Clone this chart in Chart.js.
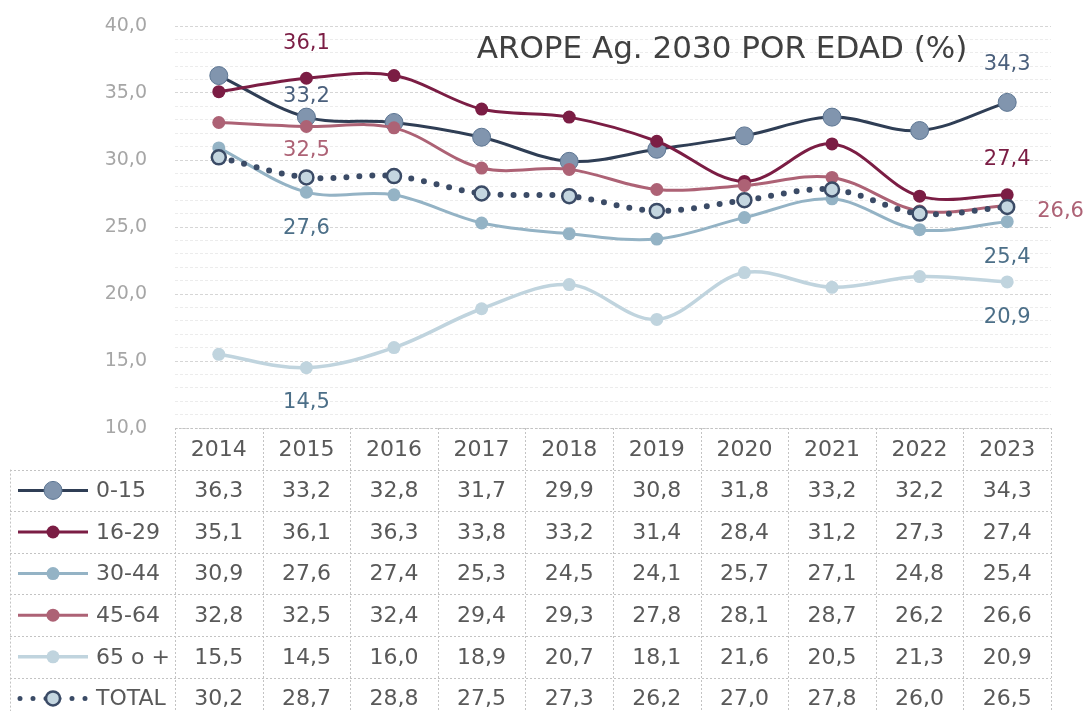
<!DOCTYPE html>
<html>
<head>
<meta charset="utf-8">
<script src="https://cdn.jsdelivr.net/npm/chart.js@4.4.1/dist/chart.umd.min.js"></script>
<style>
  html, body { margin: 0; padding: 0; background: #fff; }
  #wrap { width: 1086px; height: 711px; }
</style>
</head>
<body>
<div id="wrap"><canvas id="chart" width="1086" height="711"></canvas></div>
<script>
const years = ["2014", "2015", "2016", "2017", "2018", "2019", "2020", "2021", "2022", "2023"];
const age0to15 = [36.3, 33.2, 32.8, 31.7, 29.9, 30.8, 31.8, 33.2, 32.2, 34.3];
const age16to29 = [35.1, 36.1, 36.3, 33.8, 33.2, 31.4, 28.4, 31.2, 27.3, 27.4];
const age30to44 = [30.9, 27.6, 27.4, 25.3, 24.5, 24.1, 25.7, 27.1, 24.8, 25.4];
const age45to64 = [32.8, 32.5, 32.4, 29.4, 29.3, 27.8, 28.1, 28.7, 26.2, 26.6];
const age65plus = [15.5, 14.5, 16.0, 18.9, 20.7, 18.1, 21.6, 20.5, 21.3, 20.9];
const totalAll = [30.2, 28.7, 28.8, 27.5, 27.3, 26.2, 27.0, 27.8, 26.0, 26.5];
const seriesNames = ["0-15", "16-29", "30-44", "45-64", "65 o +", "TOTAL"];
const chartTitle = "AROPE Ag. 2030 POR EDAD (%)";

const allSeries = [age0to15, age16to29, age30to44, age45to64, age65plus, totalAll];

// look of each series (line colour, marker fill/border, marker radius)
const looks = [
  { line: "#2f3e55", fill: "#8195ae", border: "#5c7592", r: 9, bw: 1, width: 3 },
  { line: "#7b1d44", fill: "#7b1d44", border: "#7b1d44", r: 6.5, bw: 0, width: 3 },
  { line: "#94b3c5", fill: "#94b3c5", border: "#94b3c5", r: 6.5, bw: 0, width: 3 },
  { line: "#ad6275", fill: "#ad6275", border: "#ad6275", r: 6.5, bw: 0, width: 3 },
  { line: "#c0d4de", fill: "#c0d4de", border: "#c0d4de", r: 6.5, bw: 0, width: 3.5 },
  { line: "#3b4b66", fill: "#c4d6e0", border: "#3b4b66", r: 7, bw: 2.5, width: 6, dotted: true }
];

// which values get a label on the plot
const callouts = [
  { s: 1, i: 1, dy: -35, color: "#7b1d44" },
  { s: 0, i: 1, dy: -21, color: "#4b607c" },
  { s: 3, i: 1, dy: 24, color: "#ad6275" },
  { s: 2, i: 1, dy: 36, color: "#4c6f88" },
  { s: 4, i: 1, dy: 35, color: "#4c6f88" },
  { s: 0, i: 9, dy: -38, color: "#4b607c" },
  { s: 1, i: 9, dy: -35, color: "#7b1d44" },
  { s: 3, i: 9, dy: 6, dx: 30, color: "#ad6275", align: "left" },
  { s: 2, i: 9, dy: 36, color: "#4c6f88" },
  { s: 4, i: 9, dy: 36, color: "#4c6f88" }
];

const fmt = v => v.toFixed(1).replace(".", ",");
const FONT = "'DejaVu Sans', sans-serif";
Chart.defaults.font.family = FONT;

function drawMarker(ctx, look, x, y) {
  ctx.beginPath();
  ctx.arc(x, y, look.r, 0, Math.PI * 2);
  ctx.fillStyle = look.fill;
  ctx.fill();
  if (look.bw > 0) {
    ctx.lineWidth = look.bw;
    ctx.strokeStyle = look.border;
    ctx.stroke();
  }
}

const extras = {
  id: "extras",
  afterDatasetsDraw(chart) {
    const ctx = chart.ctx;
    const area = chart.chartArea;
    const xs = chart.scales.x;
    const colW = (area.right - area.left) / years.length;
    const rowH = 41.6;
    const legendLeft = 10;
    ctx.save();

    // title
    ctx.font = "31px " + FONT;
    ctx.fillStyle = "#404040";
    ctx.textAlign = "center";
    ctx.textBaseline = "middle";
    ctx.fillText(chartTitle, 722, 50);

    // value labels on the lines
    ctx.font = "21px " + FONT;
    callouts.forEach(c => {
      const pt = chart.getDatasetMeta(c.s).data[c.i];
      ctx.fillStyle = c.color;
      ctx.textAlign = c.align || "center";
      ctx.fillText(fmt(allSeries[c.s][c.i]), pt.x + (c.dx || 0), pt.y + c.dy);
    });

    // data table under the plot
    const top = area.bottom;
    const nRows = seriesNames.length + 1;
    ctx.strokeStyle = "#c3c3c3";
    ctx.lineWidth = 1;
    ctx.setLineDash([2, 2]);
    ctx.beginPath();
    ctx.moveTo(area.left, Math.round(top) + 0.5);
    ctx.lineTo(area.right, Math.round(top) + 0.5);
    for (let k = 1; k <= nRows; k++) {
      const y = Math.round(top + k * rowH) + 0.5;
      ctx.moveTo(legendLeft, y);
      ctx.lineTo(area.right, y);
    }
    ctx.moveTo(legendLeft + 0.5, top + rowH);
    ctx.lineTo(legendLeft + 0.5, top + nRows * rowH);
    for (let j = 0; j <= years.length; j++) {
      const x = Math.round(area.left + j * colW) + 0.5;
      ctx.moveTo(x, top);
      ctx.lineTo(x, top + nRows * rowH);
    }
    ctx.stroke();
    ctx.setLineDash([]);

    ctx.font = "22px " + FONT;
    ctx.fillStyle = "#595959";
    ctx.textAlign = "center";
    years.forEach((yr, j) => {
      ctx.fillText(yr, xs.getPixelForValue(j), top + rowH / 2 + 1);
    });
    allSeries.forEach((vals, s) => {
      const cy = top + (s + 1) * rowH + rowH / 2 + 1;
      ctx.fillStyle = "#595959";
      ctx.textAlign = "center";
      vals.forEach((v, j) => ctx.fillText(fmt(v), xs.getPixelForValue(j), cy));
      ctx.textAlign = "left";
      ctx.fillText(seriesNames[s], 96, cy);

      // legend key
      const look = looks[s];
      const ky = cy - 1;
      ctx.strokeStyle = look.line;
      ctx.lineWidth = look.dotted ? 5 : look.width;
      ctx.lineCap = look.dotted ? "round" : "butt";
      ctx.setLineDash(look.dotted ? [0, 13] : []);
      ctx.beginPath();
      ctx.moveTo(look.dotted ? 20 : 18, ky);
      ctx.lineTo(88, ky);
      ctx.stroke();
      ctx.setLineDash([]);
      drawMarker(ctx, look, 53, ky);
    });
    ctx.restore();
  }
};

const datasets = allSeries.map((vals, s) => {
  const look = looks[s];
  return {
    label: seriesNames[s],
    data: vals,
    borderColor: look.line,
    borderWidth: look.width,
    borderDash: look.dotted ? [0, 13] : [],
    borderCapStyle: look.dotted ? "round" : "butt",
    pointRadius: look.r,
    pointBackgroundColor: look.fill,
    pointBorderColor: look.border,
    pointBorderWidth: look.bw,
    tension: 0.35,
    order: allSeries.length - 1 - s
  };
});

new Chart(document.getElementById("chart"), {
  type: "line",
  data: { labels: years, datasets: datasets },
  options: {
    responsive: false,
    animation: false,
    layout: { padding: { left: 0, right: 35, top: 26, bottom: 283 } },
    plugins: { legend: { display: false }, tooltip: { enabled: false } },
    scales: {
      x: { display: false, offset: true },
      y: {
        min: 10,
        max: 40,
        afterFit: scale => {
          scale.width = 175;
          scale.paddingTop = 0;
          scale.paddingBottom = 0;
        },
        border: { display: false, dash: [3, 2] },
        grid: {
          drawTicks: false,
          color: ctx => (ctx.tick && ctx.tick.value % 5 === 0) ? "#d6d6d6" : "#ececec"
        },
        ticks: {
          stepSize: 1,
          autoSkip: false,
          padding: 28,
          color: "#a6a6a6",
          font: { size: 19 },
          callback: v => (v % 5 === 0 ? fmt(v) : "")
        }
      }
    }
  },
  plugins: [extras]
});
</script>
</body>
</html>
